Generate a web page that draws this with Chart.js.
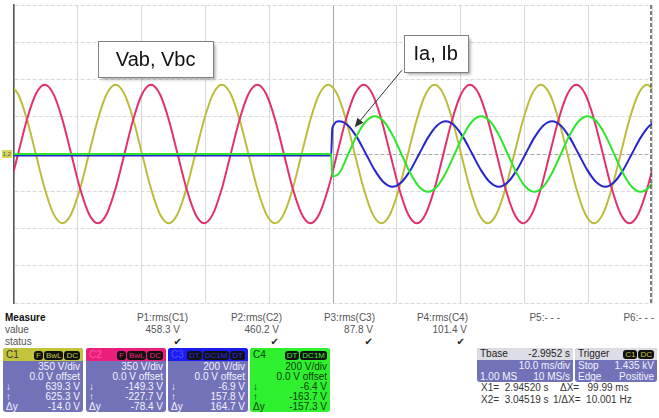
<!DOCTYPE html>
<html>
<head>
<meta charset="utf-8">
<script src="https://cdn.jsdelivr.net/npm/chart.js@4.4.0/dist/chart.umd.min.js"></script>
<style>
  body { margin: 0; background: #fff; width: 659px; height: 418px; overflow: hidden; position: relative;
         font-family: "Liberation Sans", Arial, sans-serif; }
  #wrap { position: absolute; left: 0; top: 0; width: 659px; height: 306px; }
  .t { position: absolute; font-size: 10px; line-height: 12px; color: #555; white-space: nowrap; }
  .r { text-align: right; }
  .box { position: absolute; top: 348px; width: 80px; height: 64px; background: #7272b8; border-radius: 3px;
         color: #f2f2ff; font-size: 10px; overflow: hidden; }
  .hdr { height: 13px; line-height: 13px; padding: 0 3px; display: flex; justify-content: space-between; align-items: center; margin-bottom: 1px; }
  .row { height: 10px; line-height: 10px; padding: 0 3px; display: flex; justify-content: space-between; }
  .pill { background: #111; border-radius: 3px; padding: 0 2px; margin-left: 1px; font-size: 8px; line-height: 10px; }
  .chk { font-family: "DejaVu Sans", sans-serif; font-size: 10px; color: #222; }
</style>
</head>
<body>
<div id="wrap"><canvas id="scope" width="659" height="306"></canvas></div>

<div class="t" style="left:5px;top:312px;color:#111;font-weight:bold;">Measure</div>
<div class="t" style="left:5px;top:324px;">value</div>
<div class="t" style="left:5px;top:336px;">status</div>

<div class="t r" style="right:471px;top:312px;">P1:rms(C1)</div>
<div class="t r" style="right:479px;top:324px;">458.3 V</div>
<div class="t r chk" style="right:477px;top:336px;">✔</div>
<div class="t r" style="right:377px;top:312px;">P2:rms(C2)</div>
<div class="t r" style="right:380px;top:324px;">460.2 V</div>
<div class="t r chk" style="right:380px;top:336px;">✔</div>
<div class="t r" style="right:284px;top:312px;">P3:rms(C3)</div>
<div class="t r" style="right:286px;top:324px;">87.8 V</div>
<div class="t r chk" style="right:286px;top:336px;">✔</div>
<div class="t r" style="right:191px;top:312px;">P4:rms(C4)</div>
<div class="t r" style="right:192px;top:324px;">101.4 V</div>
<div class="t r chk" style="right:194px;top:336px;">✔</div>
<div class="t r" style="right:99px;top:312px;">P5:- - -</div>
<div class="t r" style="right:5px;top:312px;">P6:- - -</div>

<div class="box" style="left:3px;">
  <div class="hdr" style="background:#c4c43c;color:#333;"><span>C1</span><span><span class="pill" style="color:#c4c43c">F</span><span class="pill" style="color:#c4c43c">BwL</span><span class="pill" style="color:#c4c43c">DC</span></span></div>
  <div class="row"><span></span><span>350 V/div</span></div>
  <div class="row"><span></span><span>0.0 V offset</span></div>
  <div class="row"><span>↓</span><span>639.3 V</span></div>
  <div class="row"><span>↑</span><span>625.3 V</span></div>
  <div class="row"><span>Δy</span><span>-14.0 V</span></div>
</div>
<div class="box" style="left:86px;">
  <div class="hdr" style="background:#ec1e7c;color:#ff5aa0;"><span>C2</span><span><span class="pill" style="color:#ec1e7c">F</span><span class="pill" style="color:#ec1e7c">BwL</span><span class="pill" style="color:#ec1e7c">DC</span></span></div>
  <div class="row"><span></span><span>350 V/div</span></div>
  <div class="row"><span></span><span>0.0 V offset</span></div>
  <div class="row"><span>↓</span><span>-149.3 V</span></div>
  <div class="row"><span>↑</span><span>-227.7 V</span></div>
  <div class="row"><span>Δy</span><span>-78.4 V</span></div>
</div>
<div class="box" style="left:168px;">
  <div class="hdr" style="background:#1c1cf0;color:#5050ff;"><span>C3</span><span><span class="pill" style="color:#2a2af0">DT</span><span class="pill" style="color:#2a2af0">DC1M</span><span class="pill" style="color:#2a2af0">DT</span></span></div>
  <div class="row"><span></span><span>200 V/div</span></div>
  <div class="row"><span></span><span>0.0 V offset</span></div>
  <div class="row"><span>↓</span><span>-6.9 V</span></div>
  <div class="row"><span>↑</span><span>157.8 V</span></div>
  <div class="row"><span>Δy</span><span>164.7 V</span></div>
</div>
<div class="box" style="left:250px;background:#2ef02e;color:#0a3a0a;">
  <div class="hdr" style="background:#2ef02e;color:#0a3a0a;"><span>C4</span><span><span class="pill" style="color:#2ef02e">DT</span><span class="pill" style="color:#2ef02e">DC1M</span></span></div>
  <div class="row"><span></span><span>200 V/div</span></div>
  <div class="row"><span></span><span>0.0 V offset</span></div>
  <div class="row"><span>↓</span><span>-6.4 V</span></div>
  <div class="row"><span>↑</span><span>-163.7 V</span></div>
  <div class="row"><span>Δy</span><span>-157.3 V</span></div>
</div>

<div class="box" style="left:477px;width:96px;height:34px;">
  <div class="hdr" style="background:#dcdce4;color:#222;height:12px;line-height:12px;margin:0;"><span>Tbase</span><span>-2.9952 s</span></div>
  <div class="row" style="height:11px;line-height:11px;"><span></span><span>10.0 ms/div</span></div>
  <div class="row" style="height:11px;line-height:11px;"><span>1.00 MS</span><span>10 MS/s</span></div>
</div>
<div class="box" style="left:575px;width:82px;height:34px;">
  <div class="hdr" style="background:#dcdce4;color:#222;height:12px;line-height:12px;margin:0;"><span>Trigger</span><span><span class="pill" style="color:#c4c43c">C1</span><span class="pill" style="color:#c4c43c">DC</span></span></div>
  <div class="row" style="height:11px;line-height:11px;"><span>Stop</span><span>1.435 kV</span></div>
  <div class="row" style="height:11px;line-height:11px;"><span>Edge</span><span>Positive</span></div>
</div>

<div class="t" style="left:481px;top:382px;color:#333;">X1=&nbsp; 2.94520 s</div>
<div class="t" style="left:560px;top:382px;color:#333;">ΔX=&nbsp;&nbsp; 99.99 ms</div>
<div class="t" style="left:481px;top:394px;color:#333;">X2=&nbsp; 3.04519 s</div>
<div class="t" style="left:553px;top:394px;color:#333;">1/ΔX=&nbsp; 10.001 Hz</div>

<script>
// time base: 10 ms/div, 10 divisions; voltages in scope volts
const tV = [-0.75, 0.64, 2.03, 3.42, 4.81, 6.19, 7.58, 8.97, 10.36, 11.75, 13.14, 14.53,
  15.92, 17.31, 18.69, 20.08, 21.47, 22.86, 24.25, 25.64, 27.03, 28.42, 29.81, 31.19,
  32.58, 33.97, 35.36, 36.75, 38.14, 39.53, 40.92, 42.31, 43.69, 45.08, 46.47, 47.86,
  49.25, 50.64, 52.03, 53.42, 54.81, 56.19, 57.58, 58.97, 60.36, 61.75, 63.14, 64.53,
  65.92, 67.31, 68.69, 70.08, 71.47, 72.86, 74.25, 75.64, 77.03, 78.42, 79.81, 81.19,
  82.58, 83.97, 85.36, 86.75, 88.14, 89.53, 90.92, 92.31, 93.69, 95.08, 96.47, 97.86,
  99.25, 100.64];

const vab = [650, 563, 325, 0, -325, -563, -650, -563, -325, 0, 325, 563,
  650, 563, 325, 0, -325, -563, -650, -563, -325, 0, 325, 563,
  650, 563, 325, 0, -325, -563, -650, -563, -325, 0, 325, 563,
  650, 563, 325, 0, -325, -563, -650, -563, -325, 0, 325, 563,
  650, 563, 325, 0, -325, -563, -650, -563, -325, 0, 325, 563,
  650, 563, 325, 0, -325, -563, -650, -563, -325, 0, 325, 563,
  650, 563];

const vbc = [-325, 0, 325, 563, 650, 563, 325, 0, -325, -563, -650, -563,
  -325, 0, 325, 563, 650, 563, 325, 0, -325, -563, -650, -563,
  -325, 0, 325, 563, 650, 563, 325, 0, -325, -563, -650, -563,
  -325, 0, 325, 563, 650, 563, 325, 0, -325, -563, -650, -563,
  -325, 0, 325, 563, 650, 563, 325, 0, -325, -563, -650, -563,
  -325, 0, 325, 563, 650, 563, 325, 0, -325, -563, -650, -563,
  -325, 0];

const tI = [0, 49.7, 49.9, 51.00, 52.39, 53.78, 55.17, 56.56, 57.94, 59.33, 60.72, 62.11,
  63.50, 64.89, 66.28, 67.67, 69.06, 70.44, 71.83, 73.22, 74.61, 76.00, 77.39, 78.78,
  80.17, 81.56, 82.94, 84.33, 85.72, 87.11, 88.50, 89.89, 91.28, 92.67, 94.06, 95.44,
  96.83, 98.22, 99.61, 101.00];

const ia = [-8, -8, 140,
  176, 152, 88, 0, -88, -152, -176, -152, -88, 0, 88, 152,
  176, 152, 88, 0, -88, -152, -176, -152, -88, 0, 88, 152,
  176, 152, 88, 0, -88, -152, -176, -152, -88, 0, 88, 152,
  176];

const ib = [0, 0, -120,
  -102, 0, 102, 176, 203, 176, 102, 0, -102, -176, -203, -176,
  -102, 0, 102, 176, 203, 176, 102, 0, -102, -176, -203, -176,
  -102, 0, 102, 176, 203, 176, 102, 0, -102, -176, -203, -176,
  -102];

const voltsPerDiv = { vab: 350, vbc: 350, ia: 200, ib: 200 };

function toPoints(times, values, vdiv) {
    return times.map((t, i) => ({ x: t, y: values[i] / vdiv }));
}

// text boxes and arrow drawn on top of the traces
const notes = {
    id: 'notes',
    afterDatasetsDraw(chart) {
        const { ctx, chartArea, scales: { x, y } } = chart;

        // dashed right edge and channel tag on the left
        ctx.save();
        ctx.strokeStyle = '#555';
        ctx.lineWidth = 1.5;
        ctx.setLineDash([4, 2]);
        ctx.beginPath();
        ctx.moveTo(chartArea.right - 1, chartArea.top);
        ctx.lineTo(chartArea.right - 1, chartArea.bottom);
        ctx.stroke();
        ctx.setLineDash([]);
        const y0 = y.getPixelForValue(0);
        ctx.fillStyle = '#d6d65a';
        ctx.fillRect(chartArea.left - 12, y0 - 4, 10, 8);
        ctx.fillStyle = '#555';
        ctx.font = '6px "Liberation Sans", Arial, sans-serif';
        ctx.textAlign = 'center';
        ctx.textBaseline = 'middle';
        ctx.fillText('1,2', chartArea.left - 7, y0);

        function box(text, t, v, w, h) {
            const cx = x.getPixelForValue(t), cy = y.getPixelForValue(v);
            const bx = Math.round(cx - w / 2) + 0.5, by = Math.round(cy - h / 2) + 0.5;
            ctx.shadowColor = 'rgba(0,0,0,0.35)';
            ctx.shadowOffsetX = 2;
            ctx.shadowOffsetY = 2;
            ctx.shadowBlur = 3;
            ctx.fillStyle = '#fff';
            ctx.fillRect(bx, by, w, h);
            ctx.shadowColor = 'transparent';
            ctx.strokeStyle = '#808080';
            ctx.lineWidth = 1;
            ctx.strokeRect(bx, by, w, h);
            ctx.fillStyle = '#111';
            ctx.font = '20px "Liberation Sans", Arial, sans-serif';
            ctx.textAlign = 'center';
            ctx.textBaseline = 'middle';
            ctx.fillText(text, cx, cy + 1);
        }

        // arrow from the current label to the blue trace
        const ax = x.getPixelForValue(60.8), ay = y.getPixelForValue(2.25);
        const tx = x.getPixelForValue(53.4), ty = y.getPixelForValue(0.72);
        const ang = Math.atan2(ty - ay, tx - ax);
        ctx.strokeStyle = '#333';
        ctx.fillStyle = '#333';
        ctx.lineWidth = 1;
        ctx.beginPath();
        ctx.moveTo(ax, ay);
        ctx.lineTo(tx - 6 * Math.cos(ang), ty - 6 * Math.sin(ang));
        ctx.stroke();
        ctx.beginPath();
        ctx.moveTo(tx, ty);
        ctx.lineTo(tx - 9 * Math.cos(ang) + 4 * Math.sin(ang), ty - 9 * Math.sin(ang) - 4 * Math.cos(ang));
        ctx.lineTo(tx - 9 * Math.cos(ang) - 4 * Math.sin(ang), ty - 9 * Math.sin(ang) + 4 * Math.cos(ang));
        ctx.closePath();
        ctx.fill();

        box('Vab, Vbc', 22.2, 2.55, 115, 36);
        box('Ia, Ib', 66.1, 2.7, 64, 37);
        ctx.restore();
    }
};

const ctx = document.getElementById('scope').getContext('2d');
new Chart(ctx, {
    type: 'line',
    data: {
        datasets: [
            { label: 'Ib', data: toPoints(tI, ib, voltsPerDiv.ib), borderColor: '#2ee62e' },
            { label: 'Ia', data: toPoints(tI, ia, voltsPerDiv.ia), borderColor: '#2626cc' },
            { label: 'Vbc', data: toPoints(tV, vbc, voltsPerDiv.vbc), borderColor: '#e2306c' },
            { label: 'Vab', data: toPoints(tV, vab, voltsPerDiv.vab), borderColor: '#bcbc3c' }
        ]
    },
    options: {
        responsive: false,
        animation: false,
        parsing: false,
        layout: { padding: { left: 14, right: 7, top: 5, bottom: 3 } },
        elements: {
            line: { borderWidth: 2, cubicInterpolationMode: 'monotone', fill: false },
            point: { radius: 0 }
        },
        scales: {
            x: {
                type: 'linear', min: 0, max: 100,
                ticks: { display: false, stepSize: 10 },
                grid: { drawTicks: false, color: c => c.tick.value === 50 ? '#a8a8a8' : '#d8d8d8' },
                border: { display: false }
            },
            y: {
                min: -4, max: 4,
                ticks: { display: false, stepSize: 1 },
                grid: { drawTicks: false, color: c => c.tick.value === 0 ? '#a8a8a8' : '#d8d8d8' },
                border: { display: true, color: '#555', width: 1.5, dash: [4, 2] }
            }
        },
        plugins: { legend: { display: false }, tooltip: { enabled: false } }
    },
    plugins: [notes]
});
</script>
</body>
</html>
